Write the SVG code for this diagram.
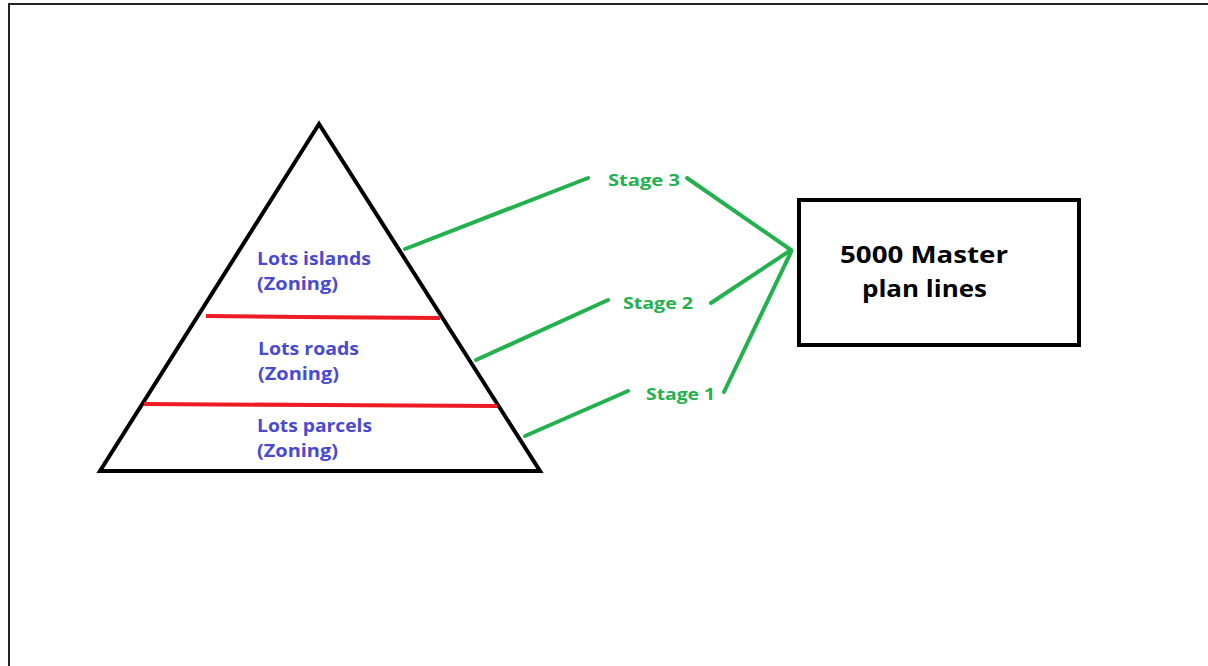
<svg xmlns="http://www.w3.org/2000/svg" width="1208" height="666" viewBox="0 0 1208 666">
<style>
.frame{fill:none;stroke:#222;stroke-width:2}
.tri{fill:none;stroke:#000;stroke-width:4;stroke-linejoin:miter}
.red{stroke:#ed1c24;stroke-width:4;fill:none}
.grn{stroke:#22b14c;stroke-width:4;fill:none;stroke-linecap:round}
.blue{font-family:"Open Sans","Liberation Sans",sans-serif;font-weight:bold;font-size:17px;fill:#4a4ad0}
.stage{font-family:"Open Sans","Liberation Sans",sans-serif;font-weight:bold;font-size:16px;fill:#22b14c}
.box{fill:#fff;stroke:#000;stroke-width:4}
.boxt{font-family:"Open Sans","Liberation Sans",sans-serif;font-weight:bold;font-size:24px;fill:#000}
</style>
<rect width="1208" height="666" fill="#fff"/>
<path class="frame" d="M9,666 V4 H1208"/>
<g id="pyramid">
<polygon class="tri" points="319,124 100,471 540,471"/>
<path class="red" d="M206,316 L300,317 L440,318"/>
<path class="red" d="M144,404 L320,405 L497,406"/>
<text class="blue" x="257" y="265" textLength="114" lengthAdjust="spacingAndGlyphs">Lots islands</text>
<text class="blue" x="257" y="290" textLength="81" lengthAdjust="spacingAndGlyphs">(Zoning)</text>
<text class="blue" x="258" y="355" textLength="101" lengthAdjust="spacingAndGlyphs">Lots roads</text>
<text class="blue" x="258" y="380" textLength="81" lengthAdjust="spacingAndGlyphs">(Zoning)</text>
<text class="blue" x="257" y="432" textLength="115" lengthAdjust="spacingAndGlyphs">Lots parcels</text>
<text class="blue" x="257" y="457" textLength="81" lengthAdjust="spacingAndGlyphs">(Zoning)</text>
</g>
<g id="connectors">
<line class="grn" x1="405" y1="249" x2="588" y2="178"/>
<line class="grn" x1="687" y1="178" x2="791" y2="250"/>
<line class="grn" x1="476" y1="360" x2="608" y2="300"/>
<line class="grn" x1="711" y1="303" x2="791" y2="250"/>
<line class="grn" x1="525" y1="436" x2="628" y2="391"/>
<line class="grn" x1="724" y1="392" x2="791" y2="252"/>
</g>
<g id="stage3"><text class="stage" x="608" y="186" textLength="72" lengthAdjust="spacingAndGlyphs">Stage 3</text></g>
<g id="stage2"><text class="stage" x="623" y="309" textLength="70" lengthAdjust="spacingAndGlyphs">Stage 2</text></g>
<g id="stage1"><text class="stage" x="646" y="400" textLength="69" lengthAdjust="spacingAndGlyphs">Stage 1</text></g>
<g id="master">
<rect class="box" x="799" y="200" width="280" height="145"/>
<text class="boxt" x="840" y="263" textLength="168" lengthAdjust="spacingAndGlyphs">5000 Master</text>
<text class="boxt" x="862" y="297" textLength="125" lengthAdjust="spacingAndGlyphs">plan lines</text>
</g>
</svg>
